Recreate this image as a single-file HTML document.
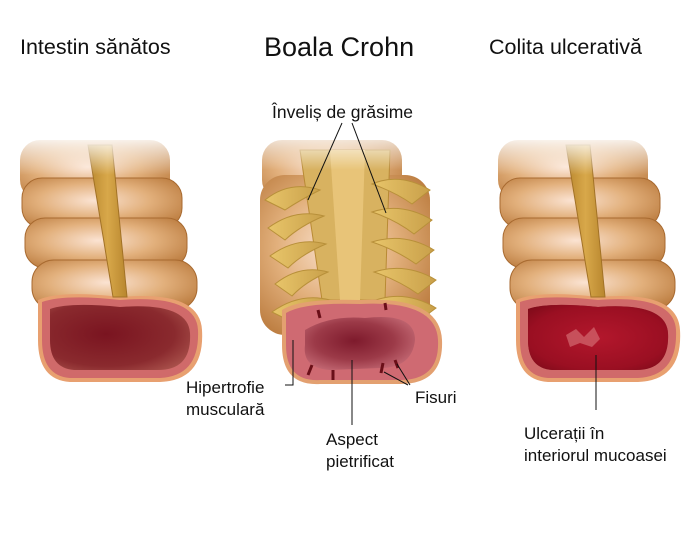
<!DOCTYPE html>
<html><head><meta charset="utf-8"><style>
body{margin:0;background:#fff;width:700px;height:530px;overflow:hidden}
svg text{font-family:"Liberation Sans",Arial,sans-serif;fill:#111}
</style></head><body>
<svg width="700" height="530" viewBox="0 0 700 530" xmlns="http://www.w3.org/2000/svg">
<defs>
<radialGradient id="seg" cx="0.45" cy="0.45" r="0.7">
<stop offset="0" stop-color="#fbe3d2"/><stop offset="0.5" stop-color="#e2b07c"/><stop offset="1" stop-color="#b77638"/></radialGradient>
<linearGradient id="topfade" x1="0" y1="0" x2="0" y2="1">
<stop offset="0" stop-color="#fff" stop-opacity="1"/><stop offset="1" stop-color="#fff" stop-opacity="0"/></linearGradient>
<radialGradient id="lumen" cx="0.4" cy="0.45" r="0.7">
<stop offset="0" stop-color="#7a1420"/><stop offset="0.7" stop-color="#8a2a2e"/><stop offset="1" stop-color="#a8504a"/></radialGradient>
<radialGradient id="lumenR" cx="0.5" cy="0.5" r="0.7">
<stop offset="0" stop-color="#b3172c"/><stop offset="0.7" stop-color="#9a0f22"/><stop offset="1" stop-color="#7a0a18"/></radialGradient>
<linearGradient id="strip" x1="0" x2="1"><stop offset="0" stop-color="#b8862e"/><stop offset="0.5" stop-color="#d8a84a"/><stop offset="1" stop-color="#b8862e"/></linearGradient>
<radialGradient id="crohnIn" cx="0.45" cy="0.45" r="0.6">
<stop offset="0" stop-color="#7e1a2c"/><stop offset="0.6" stop-color="#9c3a48"/><stop offset="1" stop-color="#c06570"/></radialGradient>
<linearGradient id="fat" x1="0" x2="1"><stop offset="0" stop-color="#e8c56a"/><stop offset="1" stop-color="#c9a04a"/></linearGradient>
<g id="healthy">
<rect x="20" y="140" width="150" height="60" rx="20" fill="url(#seg)"/>
<rect x="22" y="178" width="160" height="50" rx="20" fill="url(#seg)" stroke="#a86a30" stroke-width="1"/>
<rect x="25" y="218" width="162" height="50" rx="20" fill="url(#seg)" stroke="#a86a30" stroke-width="1"/>
<rect x="32" y="260" width="165" height="50" rx="22" fill="url(#seg)" stroke="#a86a30" stroke-width="1"/>
<path d="M38 300 Q60 290 120 297 Q200 290 202 330 Q205 380 160 382 L70 382 Q38 380 38 340Z" fill="#e8a070"/>
<path d="M42 302 Q65 294 120 300 Q196 294 198 330 Q200 376 160 378 L70 378 Q42 376 42 340Z" fill="#d06a6a"/>
<path d="M50 309 Q70 302 120 307 Q188 302 190 333 Q192 370 158 370 L74 370 Q50 368 50 340Z" fill="url(#lumen)"/>
<path d="M88 145 L112 145 L127 297 L113 297Z" fill="url(#strip)" stroke="#a27226" stroke-width="1"/>
<rect x="0" y="135" width="220" height="40" fill="url(#topfade)"/>
</g>
</defs>
<text x="20" y="54" font-size="21.5">Intestin sănătos</text>
<text x="264" y="56" font-size="27">Boala Crohn</text>
<text x="489" y="54" font-size="21.5">Colita ulcerativă</text>

<use href="#healthy"/>
<g transform="translate(478,0)">
<use href="#healthy"/>
<path d="M50 309 Q70 302 120 307 Q188 302 190 333 Q192 370 158 370 L74 370 Q50 368 50 340Z" fill="url(#lumenR)"/>
<path d="M88 335 l10 -6 l8 8 l10 -10 l6 12 l-8 8 l-12 -4 l-10 4z" fill="#d36a70" opacity="0.7"/>
</g>

<!-- Crohn -->
<g>
<rect x="262" y="140" width="140" height="60" rx="20" fill="url(#seg)"/>
<rect x="260" y="175" width="170" height="160" rx="25" fill="url(#seg)"/>
<path d="M300 150 L390 150 L385 300 L322 300Z" fill="#d8b260" stroke="#b88a34"/>
<path d="M330 150 L365 150 L360 300 L340 300Z" fill="#e8c478"/>
<g fill="url(#fat)" stroke="#b8903a" stroke-width="1">
<path d="M265 200 Q290 180 320 190 Q300 200 285 210Z"/>
<path d="M268 228 Q295 208 324 216 Q300 226 285 240Z"/>
<path d="M270 256 Q297 236 326 244 Q302 254 288 268Z"/>
<path d="M275 284 Q300 264 328 272 Q305 282 292 296Z"/>
<path d="M272 312 Q300 292 330 300 Q305 310 292 322Z"/>
<path d="M430 190 Q400 172 372 184 Q395 192 412 204Z"/>
<path d="M432 220 Q402 202 372 212 Q396 220 414 234Z"/>
<path d="M434 250 Q404 232 372 242 Q396 250 416 264Z"/>
<path d="M436 280 Q406 262 374 272 Q398 280 418 294Z"/>
<path d="M436 308 Q406 290 376 300 Q400 308 420 320Z"/>
</g>
<rect x="255" y="130" width="200" height="40" fill="url(#topfade)"/>
<path d="M282 310 Q300 298 360 300 Q440 296 442 340 Q444 384 400 384 L320 384 Q282 386 282 345Z" fill="#e3a070"/>
<path d="M286 313 Q304 302 360 304 Q436 300 438 340 Q440 380 400 380 L320 380 Q286 382 286 345Z" fill="#cf6a72"/>
<path d="M305 330 Q330 315 365 318 Q415 312 415 340 Q412 368 380 368 L330 370 Q302 368 305 345Z" fill="url(#crohnIn)"/>
<g stroke="#6a0f18" stroke-width="3" fill="none">
<path d="M318 310 l2 8"/><path d="M385 303 l1 7"/><path d="M312 365 l-4 10"/><path d="M333 370 l0 10"/><path d="M383 363 l-2 10"/><path d="M395 360 l3 8"/>
</g>
</g>

<g stroke="#111" stroke-width="1" fill="none">
<path d="M342 123 L308 200"/><path d="M352 123 L386 213"/>
<path d="M293 340 L293 385 L285 385"/>
<path d="M352 360 L352 425"/>
<path d="M384 372 L408 385"/><path d="M397 364 L410 385"/>
<path d="M596 355 L596 410"/>
</g>
<text x="272" y="118" font-size="17.5">Înveliș de grăsime</text>
<text x="186" y="393" font-size="17">Hipertrofie</text>
<text x="186" y="415" font-size="17">musculară</text>
<text x="326" y="445" font-size="17">Aspect</text>
<text x="326" y="467" font-size="17">pietrificat</text>
<text x="415" y="403" font-size="17">Fisuri</text>
<text x="524" y="439" font-size="17">Ulcerații în</text>
<text x="524" y="461" font-size="17">interiorul mucoasei</text>
</svg>
</body></html>
